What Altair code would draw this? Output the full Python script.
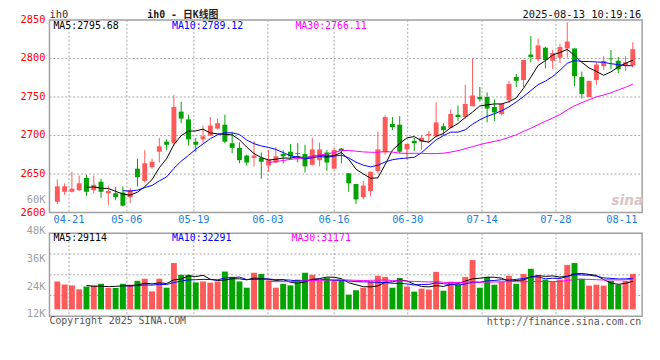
import altair as alt
import pandas as pd

# ---- data (IH0 daily K line) ----
opens = [2614, 2627, 2627, 2629, 2645, 2629, 2640, 2625, 2625, 2626,
         2620, 2657, 2641, 2659, 2679, 2692, 2690, 2731, 2721, 2692,
         2695, 2700, 2709, 2714, 2690, 2684, 2674, 2671, 2671, 2661,
         2665, 2676, 2679, 2677, 2676, 2662, 2668, 2678, 2657, 2683,
         2651, 2637, 2620, 2628, 2654, 2678, 2715, 2714, 2682, 2693,
         2692, 2700, 2699, 2712, 2710, 2727, 2724, 2738, 2750, 2750,
         2737, 2728, 2746, 2776, 2772, 2805, 2799, 2814, 2797, 2801,
         2813, 2813, 2776, 2750, 2772, 2790, 2800, 2797, 2790, 2791]
highs = [2643, 2638, 2653, 2648, 2649, 2648, 2644, 2635, 2633, 2634,
         2632, 2670, 2681, 2670, 2697, 2695, 2753, 2744, 2727, 2697,
         2713, 2724, 2722, 2727, 2705, 2691, 2675, 2693, 2678, 2681,
         2685, 2681, 2689, 2690, 2688, 2697, 2691, 2681, 2684, 2684,
         2651, 2637, 2641, 2653, 2705, 2726, 2724, 2725, 2689, 2697,
         2701, 2706, 2743, 2716, 2734, 2739, 2766, 2800, 2763, 2756,
         2747, 2742, 2771, 2780, 2798, 2829, 2826, 2815, 2811, 2819,
         2847, 2813, 2783, 2771, 2795, 2803, 2811, 2802, 2803, 2821]
lows = [2611, 2623, 2626, 2628, 2622, 2625, 2619, 2610, 2616, 2608,
        2612, 2634, 2639, 2657, 2665, 2681, 2687, 2716, 2687, 2679,
        2690, 2699, 2708, 2690, 2677, 2664, 2661, 2660, 2644, 2653,
        2664, 2664, 2669, 2665, 2652, 2661, 2660, 2654, 2656, 2664,
        2627, 2611, 2617, 2621, 2651, 2675, 2707, 2677, 2669, 2680,
        2682, 2690, 2698, 2700, 2709, 2719, 2722, 2738, 2744, 2717,
        2719, 2726, 2742, 2763, 2763, 2795, 2796, 2787, 2786, 2794,
        2801, 2764, 2748, 2750, 2766, 2785, 2786, 2781, 2784, 2788]
closes = [2634, 2634, 2631, 2638, 2627, 2636, 2627, 2628, 2620, 2609,
          2629, 2646, 2664, 2666, 2686, 2688, 2737, 2722, 2695, 2688,
          2699, 2713, 2716, 2692, 2684, 2668, 2665, 2674, 2666, 2668,
          2673, 2673, 2673, 2676, 2660, 2682, 2682, 2665, 2681, 2680,
          2638, 2617, 2635, 2653, 2682, 2724, 2711, 2679, 2689, 2690,
          2697, 2702, 2717, 2707, 2728, 2724, 2741, 2752, 2747, 2735,
          2730, 2741, 2767, 2771, 2798, 2802, 2817, 2798, 2807, 2815,
          2822, 2777, 2754, 2771, 2792, 2797, 2799, 2786, 2795, 2812]
volumes_k = [27.1, 25.8, 25.4, 23.7, 24.9, 25.3, 26.1, 24.3, 24.3, 26.1,
             25.7, 27.4, 28.3, 22.8, 28.3, 24.4, 35.1, 30.0, 30.0, 26.7,
             27.1, 26.6, 27.1, 31.4, 29.1, 27.1, 24.4, 30.9, 30.4, 27.6,
             24.4, 26.1, 25.4, 27.9, 30.9, 30.0, 27.6, 28.6, 27.6, 27.6,
             21.4, 23.3, 24.4, 27.1, 29.6, 29.1, 24.4, 28.6, 24.9, 22.7,
             24.0, 23.6, 31.3, 23.1, 27.0, 25.7, 29.1, 36.4, 24.4, 29.1,
             25.7, 27.1, 29.6, 26.1, 30.4, 32.6, 29.6, 27.9, 27.1, 27.9,
             34.3, 35.1, 28.3, 25.3, 25.7, 25.3, 27.4, 25.7, 27.3, 30.4]
vol_base_k = 15

date_labels = ["04-21", "05-06", "05-19", "06-03", "06-16", "06-30", "07-14", "07-28", "08-11"]
date_label_pos = [1.6, 9.55, 18.75, 28.9, 38.0, 48.1, 58.3, 68.45, 77.5]
vgrid_pos = date_label_pos[:8]

price_ticks = [2600, 2650, 2700, 2750, 2800, 2850]
price_grid = [2650, 2700, 2750, 2800]
vol_ticks = [12, 24, 36, 48]
vol_grid = [21, 30, 39]

n = len(closes)
df = pd.DataFrame({"i": list(range(n)), "o": opens, "h": highs, "l": lows,
                   "c": closes, "v": volumes_k})

RED = "#ff5a5a"
GREEN = "#00a300"
MONO = "DejaVu Sans Mono"
GRID = "#a8a8a8"
FRAME = "#a0a0a0"

XS = alt.Scale(domain=[-0.4, 79.6], nice=False, zero=False)
PY = alt.Scale(domain=[2600, 2850], range=[195, 0], nice=False, zero=False)
VY = alt.Scale(domain=[12, 48], range=[300, 216], nice=False, zero=False)

up = "datum.c >= datum.o"
colr = alt.condition(up, alt.value(RED), alt.value(GREEN))

def X(field):
    return alt.X(field, type="quantitative", scale=XS, axis=None)

def one():
    return alt.Data(values=[{}])

def label(txt, x, y, color, size=10, align="left", font=MONO, weight="normal",
          style="normal", baseline="middle"):
    return alt.Chart(one()).mark_text(
        text=txt, align=align, baseline=baseline, color=color, fontSize=size,
        font=font, fontWeight=weight, fontStyle=style
    ).encode(x=alt.value(x), y=alt.value(y))

layers = []

# frames
for (y0, y1) in [(0, 195), (216, 300)]:
    layers.append(alt.Chart(one()).mark_rect(fill=None, stroke=FRAME, strokeWidth=1.5).encode(
        x=alt.value(0), x2=alt.value(600), y=alt.value(y0), y2=alt.value(y1)))

# gridlines
layers.append(alt.Chart(pd.DataFrame({"g": price_grid})).mark_rule(
    color=GRID, strokeDash=[2, 2], strokeWidth=1).encode(
    y=alt.Y("g:Q", scale=PY, axis=None), x=alt.value(0), x2=alt.value(600)))
layers.append(alt.Chart(pd.DataFrame({"g": vol_grid})).mark_rule(
    color=GRID, strokeDash=[2, 2], strokeWidth=1).encode(
    y=alt.Y("g:Q", scale=VY, axis=None), x=alt.value(0), x2=alt.value(600)))
for (y0, y1) in [(0, 195), (216, 300)]:
    layers.append(alt.Chart(pd.DataFrame({"p": vgrid_pos})).mark_rule(
        color=GRID, strokeDash=[2, 2], strokeWidth=1).encode(
        x=X("p"), y=alt.value(y0), y2=alt.value(y1)))

# candles
base = alt.Chart(df)
layers.append(base.mark_rule(strokeWidth=1).encode(
    x=X("i"), y=alt.Y("l:Q", scale=PY, axis=None), y2="h:Q", color=colr))
layers.append(base.mark_bar(size=5).encode(
    x=X("i"), y=alt.Y("o:Q", scale=PY, axis=None), y2="c:Q", color=colr))

# price moving averages
for k, col in [(5, "#000000"), (10, "#0000ff"), (30, "#ff00ff")]:
    layers.append(base.transform_window(
        ma="mean(c)", cnt="count(c)", frame=[-(k - 1), 0], sort=[alt.SortField("i")]
    ).transform_filter(f"datum.cnt >= {k}").mark_line(color=col, strokeWidth=1).encode(
        x=X("i"), y=alt.Y("ma:Q", scale=PY, axis=None)))

# volume bars
layers.append(base.mark_bar(size=6).encode(
    x=X("i"), y=alt.Y("v:Q", scale=VY, axis=None), y2=alt.datum(vol_base_k), color=colr))

# volume moving averages
for k, col in [(5, "#000000"), (10, "#0000ff"), (30, "#ff00ff")]:
    layers.append(base.transform_window(
        ma="mean(v)", cnt="count(v)", frame=[-(k - 1), 0], sort=[alt.SortField("i")]
    ).transform_filter(f"datum.cnt >= {k}").mark_line(color=col, strokeWidth=1).encode(
        x=X("i"), y=alt.Y("ma:Q", scale=VY, axis=None)))

# axis labels
layers.append(alt.Chart(pd.DataFrame({"t": price_ticks})).mark_text(
    align="right", baseline="middle", color="#ff0000", fontSize=10.5, font=MONO).encode(
    y=alt.Y("t:Q", scale=PY, axis=None), x=alt.value(-4), text="t:Q"))
layers.append(alt.Chart(pd.DataFrame({"t": vol_ticks, "s": [f"{t}K" for t in vol_ticks]})).mark_text(
    align="right", baseline="middle", color="#a0a0a0", fontSize=10.5, font=MONO, dy=-2).encode(
    y=alt.Y("t:Q", scale=VY, axis=None), x=alt.value(-4), text="s:N"))
layers.append(alt.Chart(pd.DataFrame({"p": date_label_pos, "s": date_labels})).mark_text(
    align="center", baseline="middle", color="#1a7fd8", fontSize=10.5, font=MONO).encode(
    x=X("p"), y=alt.value(203), text="s:N"))

# annotations
layers += [
    label("ih0", 0, -10, "#333333", size=10.5, baseline="top"),
    label("ih0 - 日K线图", 135, -10, "#222222", size=10, align="center",
          font="DejaVu Sans Mono, Noto Sans CJK SC", weight="bold", baseline="top"),
    label("2025-08-13 10:19:16", 599, -10, "#111111", size=10.5, align="right",
          baseline="top"),
    label("MA5:2795.68", 4, 6.5, "#000000"),
    label("MA10:2789.12", 124, 6.5, "#0000ff"),
    label("MA30:2766.11", 249, 6.5, "#ff00ff"),
    label("MA5:29114", 4, 220.5, "#000000"),
    label("MA10:32291", 124, 220.5, "#0000ff"),
    label("MA30:31171", 245, 220.5, "#ff00ff"),
    label("60K", -4, 182, "#a0a0a0", size=10.5, align="right"),
    label("sina", 585, 183, "#dcc4c4", size=14, align="center", font="DejaVu Sans",
          weight="bold", style="italic"),
    label("Copyright 2025 SINA.COM", 0, 305, "#555555"),
    label("http://finance.sina.com.cn", 599, 306, "#555555", align="right"),
]

chart = alt.layer(*layers).resolve_scale(y="independent").properties(
    width=600, height=300,
    padding={"left": 42, "top": 10, "right": 10, "bottom": 30},
    autosize=alt.AutoSizeParams(type="none"),
    background="white",
).configure_view(stroke=None)

chart.save("out.html", embed_options={"renderer": "svg", "actions": False})
